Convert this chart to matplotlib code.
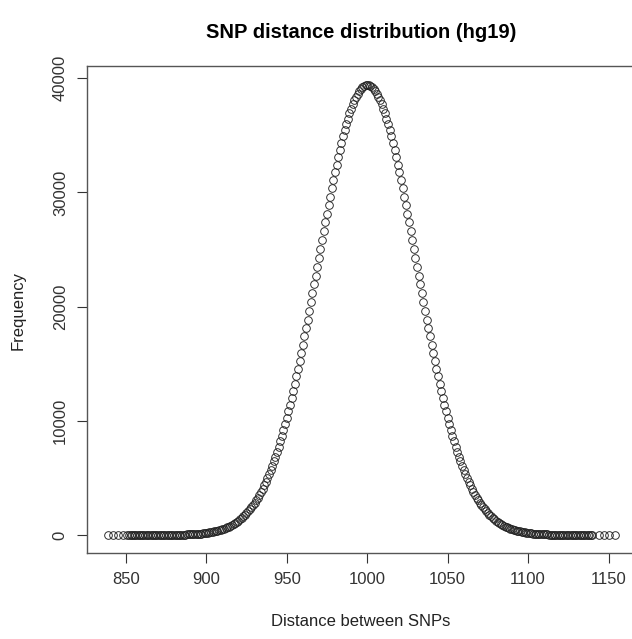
import numpy as np
import matplotlib
matplotlib.use("Agg")
import matplotlib.pyplot as plt

plt.rcParams['font.family'] = ['Liberation Sans', 'DejaVu Sans']

# sparse points at the extreme ends
tail_left_dist = [839, 842, 845, 848]
tail_left_freq = [1, 1, 1, 1]
tail_right_dist = [1144, 1147, 1150, 1154]
tail_right_freq = [1, 1, 1, 1]

# dense part: every distance from 851 to 1140
core_start = 851
core_freq = [
    # 851 - 900
    1, 1, 1, 1, 1, 1, 1, 1, 1, 1,
    1, 2, 2, 2, 2, 3, 3, 4, 4, 5,
    5, 6, 7, 8, 9, 10, 11, 13, 15, 17,
    19, 21, 24, 27, 31, 35, 40, 45, 51, 57,
    65, 73, 82, 93, 104, 117, 131, 146, 163, 182,
    # 901 - 950
    203, 225, 250, 278, 308, 341, 377, 417, 460, 507,
    558, 614, 674, 740, 811, 888, 971, 1062, 1159, 1264,
    1376, 1498, 1627, 1767, 1916, 2076, 2246, 2428, 2622, 2829,
    3048, 3281, 3528, 3790, 4066, 4358, 4666, 4990, 5331, 5689,
    6065, 6458, 6870, 7300, 7748, 8216, 8702, 9207, 9731, 10274,
    # 951 - 1000
    10836, 11416, 12015, 12631, 13264, 13914, 14580, 15261, 15958, 16669,
    17392, 18127, 18873, 19628, 20392, 21163, 21940, 22720, 23502, 24285,
    25068, 25848, 26624, 27394, 28155, 28907, 29647, 30373, 31083, 31776,
    32449, 33101, 33730, 34334, 34911, 35460, 35978, 36465, 36919, 37338,
    37721, 38067, 38376, 38645, 38874, 39063, 39210, 39315, 39379, 39400,
    # 1001 - 1050
    39379, 39315, 39210, 39063, 38874, 38645, 38376, 38067, 37721, 37338,
    36919, 36465, 35978, 35460, 34911, 34334, 33730, 33101, 32449, 31776,
    31083, 30373, 29647, 28907, 28155, 27394, 26624, 25848, 25068, 24285,
    23502, 22720, 21940, 21163, 20392, 19628, 18873, 18127, 17392, 16669,
    15958, 15261, 14580, 13914, 13264, 12631, 12015, 11416, 10836, 10274,
    # 1051 - 1100
    9731, 9207, 8702, 8216, 7748, 7300, 6870, 6458, 6065, 5689,
    5331, 4990, 4666, 4358, 4066, 3790, 3528, 3281, 3048, 2829,
    2622, 2428, 2246, 2076, 1916, 1767, 1627, 1498, 1376, 1264,
    1159, 1062, 971, 888, 811, 740, 674, 614, 558, 507,
    460, 417, 377, 341, 308, 278, 250, 225, 203, 182,
    # 1101 - 1140
    163, 146, 131, 117, 104, 93, 82, 73, 65, 57,
    51, 45, 40, 35, 31, 27, 24, 21, 19, 17,
    15, 13, 11, 10, 9, 8, 7, 6, 5, 5,
    4, 4, 3, 3, 2, 2, 2, 2, 1, 1,
]
core_dist = list(range(core_start, core_start + len(core_freq)))

dist = tail_left_dist + core_dist + tail_right_dist
freq = tail_left_freq + core_freq + tail_right_freq

fig = plt.figure(figsize=(6.32, 6.39), dpi=100)
ax = fig.add_axes([87.3 / 632, 86 / 639, 547 / 632, 487.3 / 639])

ax.plot(dist, freq, 'o', markersize=5.5, markerfacecolor='none',
        markeredgecolor='#222222', markeredgewidth=0.65)

ax.set_xlim(826.1, 1166.0)
ax.set_ylim(-1576, 41103)
ax.set_xticks([850, 900, 950, 1000, 1050, 1100, 1150])
ax.set_yticks([0, 10000, 20000, 30000, 40000])
ax.tick_params(direction='out', length=7, width=0.8, labelsize=12,
               colors='#333333', pad=7)
for lbl in ax.get_yticklabels():
    lbl.set_rotation(90)
    lbl.set_va('center')
for s in ax.spines.values():
    s.set_color('#555555')
    s.set_linewidth(1.0)

fig.text(361 / 632, 1 - 33 / 639, 'SNP distance distribution (hg19)',
         ha='center', va='center', fontsize=14.5, fontweight='bold')
fig.text(361 / 632, 1 - 622 / 639, 'Distance between SNPs',
         ha='center', va='center', fontsize=12, color='#222222')
fig.text(18 / 632, 1 - 310 / 639, 'Frequency', rotation=90,
         ha='center', va='center', fontsize=12, color='#222222')

fig.savefig('out.png', dpi=100)
